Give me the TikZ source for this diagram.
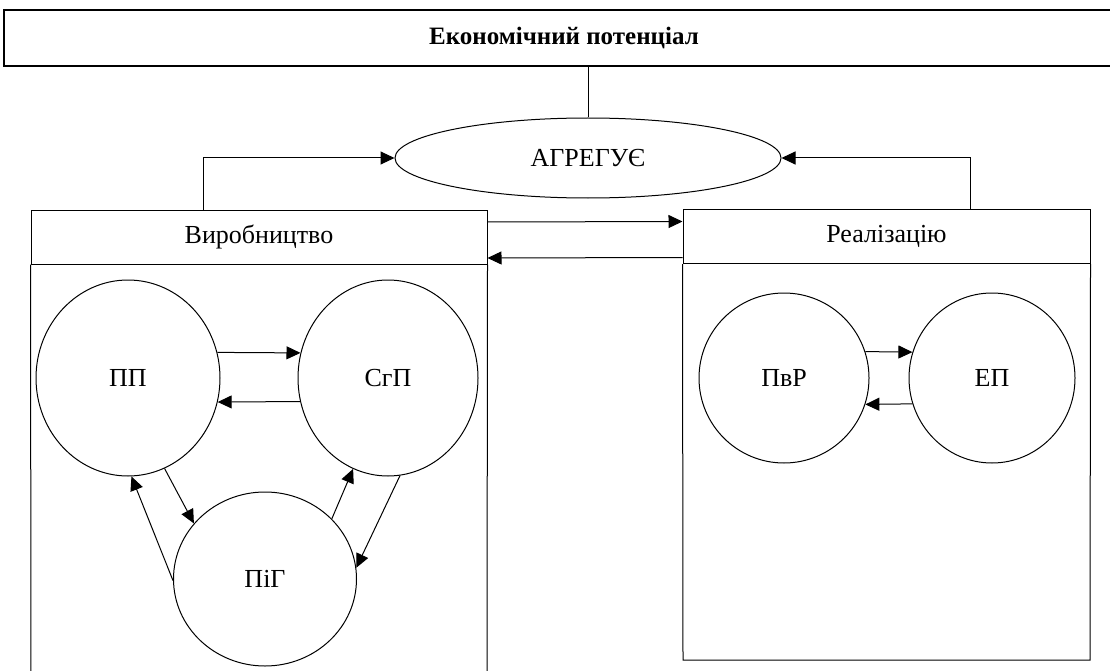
\documentclass[tikz,border=0pt]{standalone}
\usepackage{fontspec}
\setmainfont{Liberation Serif}
\usetikzlibrary{arrows.meta, positioning, shapes.geometric, calc}

\begin{document}
\begin{tikzpicture}[
    x=1pt, y=-1pt,
    every node/.style={inner sep=0pt},
    title/.style={rectangle, draw, line width=1.8pt, minimum width=1120pt, minimum height=56pt, font=\fontsize{25}{30}\selectfont\bfseries},
    head/.style={rectangle, draw, line width=1pt, minimum height=54pt, font=\fontsize{26}{31}\selectfont},
    oval/.style={ellipse, draw, line width=1pt, font=\fontsize{26}{31}\selectfont},
    arrow/.style={-{Triangle[length=14pt, width=13pt]}, line width=1pt},
    link/.style={line width=1pt}
]
    \useasboundingbox (0,0) rectangle (1110,671);

    % Top level
    \node[title] (potential) at (564,38) {Економічний потенціал};
    \node[oval, minimum width=386pt, minimum height=80pt] (agg) at (588,158) {АГРЕГУЄ};

    % Two blocks
    \node[head, minimum width=456pt] (prod) at (259,237) {Виробництво};
    \node[head, minimum width=407pt] (real) at (886.5,236.5) {Реалізацію};
    \draw[link] (prod.south west) -- (31,675);
    \draw[link] (prod.south east) -- (487,675);
    \draw[link] (real.south west) -- (683,660) -- (1090,660) -- (real.south east);

    % Production circles
    \node[oval, minimum width=184pt, minimum height=196pt] (pp) at (128,378) {ПП};
    \node[oval, minimum width=180pt, minimum height=196pt] (sg) at (388,378) {СгП};
    \node[oval, minimum width=183pt, minimum height=174pt] (pig) at (265,579) {ПіГ};

    % Realisation circles
    \node[oval, minimum width=170pt, minimum height=170pt] (pvr) at (784,378) {ПвР};
    \node[oval, minimum width=166pt, minimum height=170pt] (ep) at (992,378) {ЕП};

    % Arrows
    \draw[link] (agg.north |- potential.south) -- (agg.north);
    \draw[arrow] ([xshift=-56pt]prod.north) |- (agg.west);
    \draw[arrow] ([xshift=84pt]real.north) |- (agg.east);
    \draw[arrow] ([yshift=15pt]prod.east) -- ([yshift=15pt]real.west);
    \draw[arrow] ([yshift=-21pt]real.west) -- ([yshift=-21pt]prod.east);

    \draw[arrow] (pp.16) -- (sg.164);
    \draw[arrow] (sg.-165) -- (pp.-15);
    \draw[arrow] (pp.-68) -- (pig.142);
    \draw[arrow] (pig.181) -- (pp.-88);
    \draw[arrow] (pig.42) -- (sg.-111);
    \draw[arrow] (sg.-83) -- (pig.7);

    \draw[arrow] (pvr.18) -- (ep.162);
    \draw[arrow] (ep.-162) -- (pvr.-18);
\end{tikzpicture}
\end{document}
